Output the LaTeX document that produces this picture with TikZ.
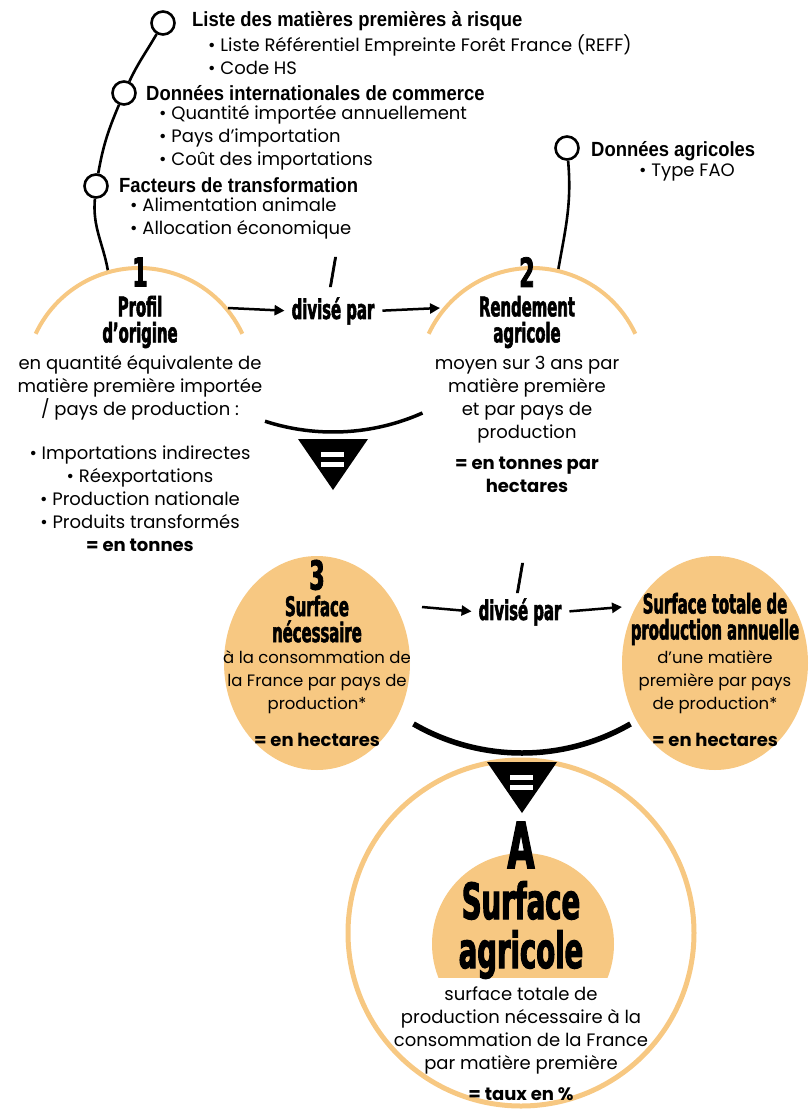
\documentclass[tikz,border=0pt]{standalone}
\usepackage{fontspec}
\setmainfont{Poppins}
\newfontfamily\titlefont[FakeStretch=0.55,FakeBold=2]{DejaVu Sans Bold}
\newfontfamily\headfont[FakeStretch=0.9]{Liberation Sans Bold}
\usetikzlibrary{arrows.meta,positioning}
\definecolor{sand}{RGB}{247,200,130}

% black triangle with a white equals sign, #1/#2 = centre of its top edge
\newcommand\eqsign[2]{%
  \fill (#1-35,#2) -- (#1+35,#2) -- (#1,#2-51) -- cycle;
  \fill[white] (#1-12,#2-13) rectangle (#1+11,#2-18);
  \fill[white] (#1-12,#2-23) rectangle (#1+11,#2-28);}

\begin{document}
\begin{tikzpicture}
  [x=1pt,y=1pt,
   every node/.style={inner sep=0pt,align=center},
   dot/.style={circle,draw,line width=2.6pt,fill=white,minimum size=23pt},
   link/.style={line width=2.6pt},
   head/.style={anchor=west,font=\headfont\fontsize{20.5}{22}\selectfont},
   item/.style={anchor=north west,align=left,font=\fontsize{18}{23}\selectfont},
   txt/.style={anchor=north,font=\fontsize{18}{23}\selectfont},
   smalltxt/.style={anchor=north,font=\fontsize{16.5}{23}\selectfont},
   res/.style={anchor=north,font=\bfseries\fontsize{18}{23}\selectfont},
   num/.style={font=\titlefont\fontsize{40}{40}\selectfont},
   ttl/.style={font=\titlefont\fontsize{27}{26}\selectfont},
   slash/.style={font=\titlefont\fontsize{36}{36}\selectfont},
   big/.style={font=\titlefont\fontsize{50}{49}\selectfont},
   arr/.style={line width=2.5pt,-{Triangle[length=10pt,width=10pt]}},
   rim/.style={draw=sand,line width=4pt},
   bowl/.style={line width=4pt}]
  \useasboundingbox (0,0) rectangle (811,-1109);

  % sources
  \node (l1) [dot] at (163,-23) {};
  \node (l2) [dot] at (124,-93) {};
  \node (l3) [dot] at (96,-186) {};
  \node (r1) [dot] at (567,-148) {};
  \coordinate (e1) at (108,-271);
  \coordinate (e2) at (558,-271);
  \draw[link] (l1) to[out=240,in=65] (l2) to[out=247,in=80] (l3) to[out=265,in=100] (e1);
  \draw[link] (r1) to[out=275,in=80] (e2);

  \node (h1) [head] at (192,-21) {Liste des matières premières à risque};
  \node (i1) [item] at (208,-34) {• Liste Référentiel Empreinte Forêt France (REFF)\\• Code HS};
  \node (h2) [head] at (146,-93) {Données internationales de commerce};
  \node (i2) [item] at (159,-105) {• Quantité importée annuellement\\• Pays d’importation\\• Coût des importations};
  \node (h3) [head] at (119,-185) {Facteurs de transformation};
  \node (i3) [item] at (130,-198) {• Alimentation animale\\• Allocation économique};
  \node (h4) [head] at (591,-151) {Données agricoles};
  \node (i4) [item] at (639,-164) {• Type FAO};

  % step 1 and 2
  \draw[rim] (139,-382) ++(25:114pt) arc[start angle=25,end angle=155,radius=114pt];
  \draw[rim] (532,-382) ++(25:114pt) arc[start angle=25,end angle=155,radius=114pt];
  \draw[bowl,line width=3.5pt] (333,-212) ++(252:220pt) arc[start angle=252,end angle=294,radius=220pt];
  \eqsign{333}{-439}

  \node (n1) [num] at (140,-272) {1};
  \node (prof) [ttl] at (140,-322) {Profil\\d’origine};
  \node (n2) [num] at (527,-272) {2};
  \node (rend) [ttl] at (527,-322) {Rendement\\agricole};
  \node (sl1) [slash] at (333,-272) {/};
  \node (div1) [ttl] at (333,-311) {divisé par};
  \coordinate (a1) at (228,-308);
  \coordinate (b1) at (440,-308);

  \node (t1) [txt] at (140,-355) {en quantité équivalente de\\matière première importée\\/ pays de production :};
  \node (t2) [txt] at (140,-446) {• Importations indirectes\\• Réexportations\\• Production nationale\\• Produits transformés};
  \node (u1) [res] at (140,-539) {= en tonnes};
  \node (t3) [txt] at (527,-356) {moyen sur 3 ans par\\matière première\\et par pays de\\production};
  \node (u2) [res] at (527,-457) {= en tonnes par\\hectares};

  % step 3
  \fill[sand] (317,-663) ellipse[x radius=93pt,y radius=107pt];
  \fill[sand] (715,-663) ellipse[x radius=93pt,y radius=107pt];
  \draw[rim,line width=5pt] (521,-933) circle[radius=173pt];
  \begin{scope}
    \clip (400,-977) rectangle (650,-840);
    \fill[sand] (523,-944) circle[radius=91pt];
  \end{scope}
  \draw[bowl,line width=5.5pt] (522,-536) ++(240:217pt) arc[start angle=240,end angle=300,radius=217pt];
  \eqsign{522}{-762}

  \node (n3) [num] at (317,-575) {3};
  \node (surf) [ttl] at (317,-619) {Surface\\nécessaire};
  \node (t4) [smalltxt] at (317,-650) {à la consommation de\\la France par pays de\\production*};
  \node (u3) [res] at (317,-733) {= en hectares};
  \node (tot) [ttl] at (715,-619) {Surface totale de\\production annuelle};
  \node (t5) [smalltxt] at (715,-650) {d’une matière\\première par pays\\de production*};
  \node (u4) [res] at (715,-733) {= en hectares};
  \node (sl2) [slash] at (520,-578) {/};
  \node (div2) [ttl] at (520,-612) {divisé par};
  \coordinate (a2) at (422,-607);
  \coordinate (b2) at (622,-607);

  % result
  \node (na) [font=\titlefont\fontsize{64}{64}\selectfont] at (521,-845) {A};
  \node (agri) [big] at (521,-930) {Surface\\agricole};
  \node (t6) [txt] at (521,-987) {surface totale de\\production nécessaire à la\\consommation de la France\\par matière première};
  \node (u5) [res] at (521,-1087) {= taux en \%};

  \foreach \from/\to in {a1/div1.west, a2/div2.west}
    \draw[arr,shorten >=7pt] (\from) -- (\to);
  \foreach \from/\to in {div1.east/b1, div2.east/b2}
    \draw[arr,shorten <=8pt] (\from) -- (\to);
\end{tikzpicture}
\end{document}
